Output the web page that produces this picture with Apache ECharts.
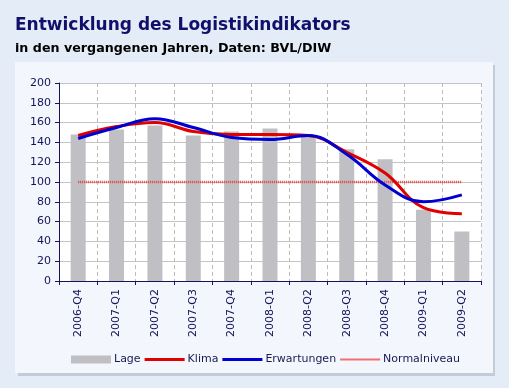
<!DOCTYPE html>
<html><head><meta charset="utf-8">
<script src="https://cdn.jsdelivr.net/npm/echarts@6/dist/echarts.min.js"></script>
<style>html,body{margin:0;padding:0;background:#e4ecf8}#c{width:509px;height:388px}</style>
</head><body><div id="c"></div>
<script>
var categories = ['2006-Q4','2007-Q1','2007-Q2','2007-Q3','2007-Q4','2008-Q1','2008-Q2','2008-Q3','2008-Q4','2009-Q1','2009-Q2'];
var lage = [148, 153, 157, 147, 151, 154, 147, 133, 123, 72, 50];
var klima = [147, 156, 160, 151, 148, 148, 147, 130, 109, 74, 68];
var erwartungen = [144, 155, 164, 155, 145, 143, 147, 128, 97, 80, 87];
var normalniveau = [100, 100, 100, 100, 100, 100, 100, 100, 100, 100, 100];
var yTicks = {min: 0, max: 200, interval: 20};

var navy = '#14145a';
var lineIcon = 'path://M0,0L0.01,0M0,2.6H40V5.4H0ZM0,8L0.01,8';
var dotIcon = 'path://M0,0L0.01,0M0,3H40V5H0ZM0,8L0.01,8';
var chart = echarts.init(document.getElementById('c'));
chart.setOption({
  backgroundColor: '#e4ecf8',
  animation: false,
  textStyle: {fontFamily: 'DejaVu Sans'},
  graphic: [
    {type: 'rect', shape: {x: 18, y: 65, width: 477, height: 311}, style: {fill: '#c3cbd9'}, z: -10},
    {type: 'rect', shape: {x: 15, y: 62, width: 478, height: 311}, style: {fill: '#f3f6fc'}, z: -9}
  ],
  title: [
    {text: 'Entwicklung des Logistikindikators', left: 10, top: 12,
     textStyle: {fontFamily: 'DejaVu Sans', fontWeight: 'bold', fontSize: 17, color: '#10106a'}},
    {text: 'in den vergangenen Jahren, Daten: BVL/DIW', left: 10, top: 37,
     textStyle: {fontFamily: 'DejaVu Sans', fontWeight: 'bold', fontSize: 12.7, color: '#000000'}}
  ],
  grid: {left: 59, right: 28, top: 83, bottom: 107, show: true, backgroundColor: '#ffffff', borderWidth: 0},
  legend: {
    left: 66, top: 349, itemWidth: 40, itemHeight: 8, itemGap: 4,
    textStyle: {fontSize: 11, color: '#1a1a50', padding: [0, 0, 0, -2]},
    data: [
      {name: 'Lage', icon: 'rect'},
      {name: 'Klima', icon: lineIcon},
      {name: 'Erwartungen', icon: lineIcon},
      {name: 'Normalniveau', icon: dotIcon}
    ]
  },
  xAxis: {
    type: 'category', data: categories, boundaryGap: true,
    axisLine: {lineStyle: {color: navy, width: 1}},
    axisTick: {show: true, length: 4, lineStyle: {color: navy}},
    axisLabel: {rotate: 90, fontSize: 11, color: navy, margin: 8},
    splitLine: {show: true, lineStyle: {color: '#bdbdbd', type: [4, 3], width: 1}}
  },
  yAxis: {
    type: 'value', min: yTicks.min, max: yTicks.max, interval: yTicks.interval,
    axisLine: {show: true, lineStyle: {color: navy, width: 1}},
    axisTick: {show: true, length: 4, lineStyle: {color: navy}},
    axisLabel: {fontSize: 11, color: navy, margin: 8},
    splitLine: {show: true, lineStyle: {color: '#c4c4c4', width: 1}}
  },
  series: [
    {name: 'Lage', type: 'bar', data: lage, barWidth: 15, itemStyle: {color: '#c0c0c4'}, z: 1},
    {name: 'Normalniveau', type: 'line', data: normalniveau, symbol: 'none',
     lineStyle: {color: '#e04040', width: 2.5, type: [1, 1]}, itemStyle: {color: '#f07070'}, z: 2},
    {name: 'Klima', type: 'line', data: klima, smooth: 0.4, symbol: 'none',
     lineStyle: {color: '#e00000', width: 3}, itemStyle: {color: '#e00000'}, z: 3},
    {name: 'Erwartungen', type: 'line', data: erwartungen, smooth: 0.4, symbol: 'none',
     lineStyle: {color: '#0000d0', width: 3}, itemStyle: {color: '#0000d0'}, z: 4}
  ]
});
</script></body></html>
